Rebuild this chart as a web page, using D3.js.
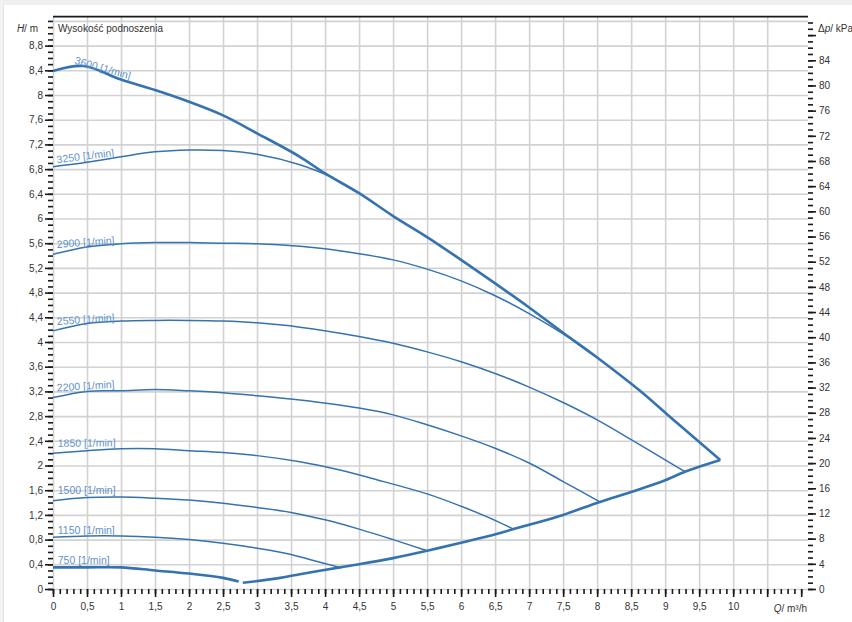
<!DOCTYPE html>
<html>
<head>
<meta charset="utf-8">
<script src="https://cdn.jsdelivr.net/npm/d3@7"></script>
<style>
  body { margin: 0; background: #fff; }
  svg { display: block; font-family: "Liberation Sans", Arial, sans-serif; }
</style>
</head>
<body>
<div id="chart"></div>
<script>

// pump curves, [Q m3/h, H m]
var curve3600 = [[0,8.39],[0.45,8.47],[1,8.25],[1.5,8.08],[2,7.89],[2.5,7.67],[3,7.38],[3.63,7.0],[4,6.73],[4.5,6.41],[5,6.04],[5.5,5.7],[6,5.33],[6.5,4.95],[7,4.56],[7.5,4.15],[8,3.75],[8.63,3.21],[9.12,2.74],[9.81,2.09]];
var curve3250 = [[0,6.84],[0.5,6.91],[1,7.0],[1.5,7.08],[2,7.11],[2.5,7.1],[3,7.04],[3.63,6.87],[4.12,6.66]];
var curve2900 = [[0,5.42],[0.5,5.54],[1,5.59],[1.5,5.61],[2,5.61],[2.5,5.6],[3,5.59],[3.63,5.55],[4,5.51],[4.5,5.43],[5,5.33],[5.5,5.18],[6,4.99],[6.5,4.75],[7,4.46],[7.5,4.13],[7.9,3.82]];
var curve2550 = [[0,4.18],[0.5,4.3],[1,4.34],[1.5,4.35],[2,4.35],[2.5,4.34],[3,4.31],[3.63,4.24],[4.5,4.09],[5,3.98],[5.5,3.84],[6,3.68],[6.5,3.49],[7,3.27],[7.5,3.02],[8,2.74],[8.5,2.42],[9,2.09],[9.29,1.9]];
var curve2200 = [[0,3.1],[0.5,3.2],[1,3.21],[1.5,3.23],[2,3.21],[2.5,3.18],[3,3.13],[3.63,3.06],[4.5,2.93],[5,2.82],[5.5,2.66],[6,2.48],[6.5,2.28],[7,2.04],[7.5,1.74],[8.04,1.41]];
var curve1850 = [[0,2.2],[0.5,2.24],[1,2.27],[1.5,2.27],[2,2.24],[2.5,2.21],[3,2.16],[3.63,2.06],[4.2,1.93],[4.76,1.77],[5.5,1.54],[6,1.34],[6.4,1.16],[6.77,0.97]];
var curve1500 = [[0,1.43],[0.5,1.48],[1,1.49],[1.5,1.47],[2,1.44],[2.5,1.39],[3,1.32],[3.5,1.24],[4,1.12],[4.5,0.97],[5,0.8],[5.5,0.62]];
var curve1150 = [[0,0.84],[0.5,0.86],[1,0.86],[1.5,0.84],[2,0.8],[2.5,0.74],[3,0.66],[3.5,0.56],[3.8,0.47],[4.22,0.35]];
var curve750 = [[0,0.35],[0.5,0.35],[1,0.35],[1.5,0.3],[2,0.25],[2.5,0.18],[2.73,0.12]];
var limitCurve = [[2.79,0.1],[3.34,0.18],[3.63,0.24],[4.22,0.35],[4.5,0.4],[5,0.5],[5.5,0.62],[6,0.75],[6.52,0.89],[6.77,0.97],[7,1.04],[7.5,1.2],[8.04,1.41],[8.5,1.57],[9,1.76],[9.29,1.9],[9.5,1.98],[9.81,2.09]];

var speeds = [3600, 3250, 2900, 2550, 2200, 1850, 1500, 1150, 750];
var speedCurves = [curve3600, curve3250, curve2900, curve2550, curve2200, curve1850, curve1500, curve1150, curve750];

// axis ticks
var hLabels = d3.range(0, 23).map(function (i) { return +(i * 0.4).toFixed(1); });   // 0 .. 8.8
var hGrid = d3.range(0, 24).map(function (i) { return +(i * 0.4).toFixed(1); });     // 0 .. 9.2
var hMinor = d3.range(0, 93).map(function (i) { return i / 10; });
var qLabels = d3.range(0, 21).map(function (i) { return i / 2; });                  // 0 .. 10
var qGrid = d3.range(0, 22).map(function (i) { return i / 2; });                    // 0 .. 10.5
var qMajor = d3.range(0, 23).map(function (i) { return i / 2; });
var qMinor = d3.range(0, 111).map(function (i) { return i / 10; });
var pLabels = d3.range(0, 22).map(function (i) { return i * 4; });                  // 0 .. 84
var pMajor = d3.range(0, 23).map(function (i) { return i * 4; });
var pMinor = d3.range(0, 91);

var qMax = 11.1, hMax = 9.27, kPaPerM = 9.81;

var W = 852, H = 622;
var plotL = 53, plotR = 808, plotT = 16.6, plotB = 589;
var lineColor = "#3573b0", labelColor = "#5f92cb";

var svg = d3.select("#chart").append("svg").attr("width", W).attr("height", H);

// page frame
svg.append("rect").attr("x", 0).attr("y", 0).attr("width", W).attr("height", H).attr("fill", "#fff");
svg.append("rect").attr("x", 0).attr("y", 0).attr("width", W).attr("height", 5).attr("fill", "#efefef");
svg.append("rect").attr("x", 0).attr("y", 0).attr("width", 3).attr("height", H).attr("fill", "#f3f3f3");
svg.append("line").attr("x1", 3.5).attr("x2", 3.5).attr("y1", 5).attr("y2", H).attr("stroke", "#e2e2e2");

var x = d3.scaleLinear().domain([0, qMax]).range([plotL, plotR]);
var y = d3.scaleLinear().domain([0, hMax]).range([plotB, plotT]);
var yp = d3.scaleLinear().domain([0, hMax * kPaPerM]).range([plotB, plotT]);

function comma(d) { return String(d).replace(".", ","); }

// grid
var grid = svg.append("g");
grid.append("g")
    .attr("transform", "translate(0," + plotB + ")")
    .call(d3.axisBottom(x).tickValues(qGrid).tickSize(-(plotB - plotT)).tickFormat(""));
grid.append("g")
    .attr("transform", "translate(" + plotL + ",0)")
    .call(d3.axisLeft(y).tickValues(hGrid).tickSize(-(plotR - plotL)).tickFormat(""));
grid.selectAll(".domain").remove();
grid.selectAll("line").attr("stroke", "#d2d2d2").attr("stroke-width", 1.6);

// curves
var line = d3.line()
    .x(function (d) { return x(d[0]); })
    .y(function (d) { return y(d[1]); })
    .curve(d3.curveCatmullRom.alpha(0.5));

var thick = { 3600: true, 750: true };

svg.append("g").selectAll("path")
    .data(speedCurves)
    .enter()
    .append("path")
    .attr("d", line)
    .attr("fill", "none")
    .attr("stroke", lineColor)
    .attr("stroke-width", function (d, i) { return thick[speeds[i]] ? 2.6 : 1.5; })
    .attr("stroke-linejoin", "round");

svg.append("path")
    .datum(limitCurve)
    .attr("d", line)
    .attr("fill", "none")
    .attr("stroke", lineColor)
    .attr("stroke-width", 2.6)
    .attr("stroke-linejoin", "round");

// speed labels, sitting just above the start of each curve
var labelQ = [0.31, 0.06, 0.06, 0.06, 0.06, 0.07, 0.07, 0.07, 0.07];
var labelLift = [4, 3, 5.5, 5, 5.5, 6, 6.5, 3, 3];
var labelAngle = [16, -7, -4, -4, -3.5, -0.5, 0, 0, 0];

function hAt(curve, q) {
  for (var k = 1; k < curve.length; k++) {
    if (curve[k][0] >= q) {
      var a = curve[k - 1], b = curve[k];
      return a[1] + (b[1] - a[1]) * (q - a[0]) / (b[0] - a[0]);
    }
  }
  return curve[curve.length - 1][1];
}

svg.append("g").selectAll("text")
    .data(speeds)
    .enter()
    .append("text")
    .attr("transform", function (d, i) {
      var px = x(labelQ[i]), py = y(hAt(speedCurves[i], labelQ[i])) - labelLift[i];
      return "translate(" + px + "," + py + ") rotate(" + labelAngle[i] + ")";
    })
    .attr("font-size", 10.5)
    .attr("fill", labelColor)
    .text(function (d) { return d + " [1/min]"; });

// axes
var axes = svg.append("g");

var ax = axes.append("g").attr("transform", "translate(0," + plotB + ")");
ax.call(d3.axisBottom(x).tickValues(qMinor).tickSize(5).tickFormat(""));
ax.append("g").call(d3.axisBottom(x).tickValues(qMajor).tickSize(8).tickFormat(""));
ax.append("g").call(d3.axisBottom(x).tickValues(qLabels).tickSize(0).tickPadding(14).tickFormat(comma));

var ayl = axes.append("g").attr("transform", "translate(" + plotL + ",0)");
ayl.call(d3.axisLeft(y).tickValues(hMinor).tickSize(5).tickFormat(""));
ayl.append("g").call(d3.axisLeft(y).tickValues(hLabels).tickSize(8).tickPadding(2).tickFormat(comma));

var ayr = axes.append("g").attr("transform", "translate(" + plotR + ",0)");
ayr.call(d3.axisRight(yp).tickValues(pMinor).tickSize(5).tickFormat(""));
ayr.append("g").call(d3.axisRight(yp).tickValues(pMajor).tickSize(8).tickFormat(""));
ayr.append("g").call(d3.axisRight(yp).tickValues(pLabels).tickSize(0).tickPadding(11).tickFormat(function (d) { return d; }));

axes.selectAll("g g .domain").remove();
axes.selectAll(".domain").attr("stroke", "#1a1a1a").attr("stroke-width", 2);
axes.selectAll("line").attr("stroke", "#1a1a1a").attr("stroke-width", 1.6);
axes.selectAll("text").attr("font-family", "Liberation Sans, Arial, sans-serif").attr("font-size", 10).attr("fill", "#333");

// top frame
svg.append("line")
    .attr("x1", plotL).attr("x2", plotR)
    .attr("y1", plotT).attr("y2", plotT)
    .attr("stroke", "#1a1a1a").attr("stroke-width", 1.6);

// titles
svg.append("text").attr("x", 58).attr("y", 32).attr("font-size", 10).attr("fill", "#333")
    .text("Wysokość podnoszenia");

var hTitle = svg.append("text").attr("x", 38).attr("y", 32).attr("font-size", 10).attr("fill", "#333")
    .attr("text-anchor", "end");
hTitle.append("tspan").attr("font-style", "italic").text("H");
hTitle.append("tspan").text("/ m");

var pTitle = svg.append("text").attr("x", 818).attr("y", 32).attr("font-size", 10).attr("fill", "#333");
pTitle.append("tspan").text("Δ");
pTitle.append("tspan").attr("font-style", "italic").text("p");
pTitle.append("tspan").text("/ kPa");

var qTitle = svg.append("text").attr("x", 807).attr("y", 612).attr("font-size", 10).attr("fill", "#333")
    .attr("text-anchor", "end");
qTitle.append("tspan").attr("font-style", "italic").text("Q");
qTitle.append("tspan").text("/ m³/h");

</script>
</body>
</html>
